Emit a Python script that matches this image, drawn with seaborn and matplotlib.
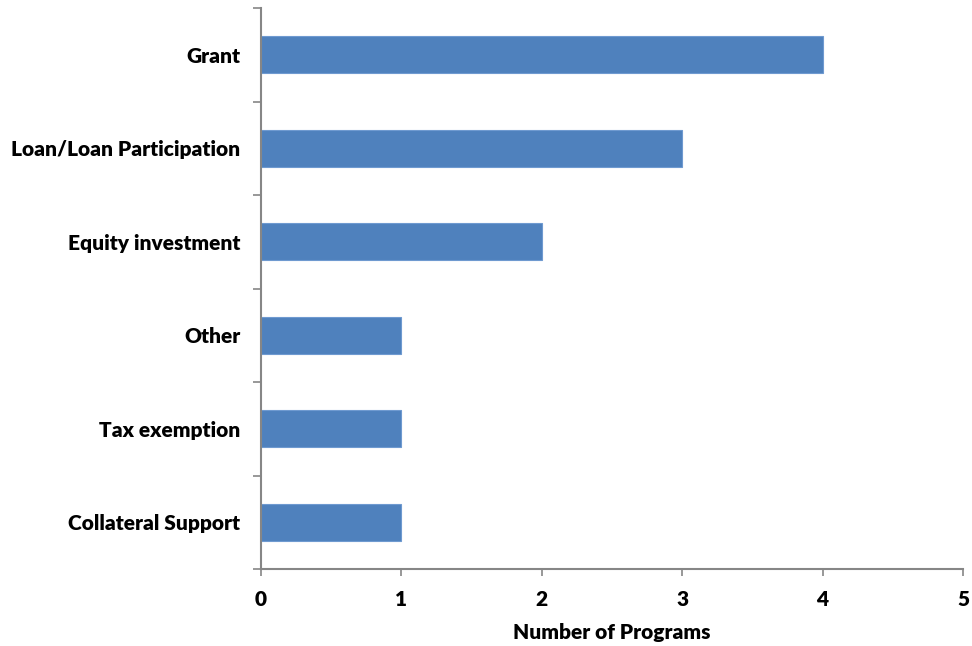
import matplotlib
matplotlib.use("Agg")
import matplotlib.pyplot as plt
import seaborn as sns
import pandas as pd
import numpy as np

categories = ["Grant", "Loan/Loan Participation", "Equity investment", "Other", "Tax exemption", "Collateral Support"]
values = [4, 3, 2, 1, 1, 1]
x_ticks = [0, 1, 2, 3, 4, 5]

df = pd.DataFrame({"category": categories, "value": values})

sns.set_theme(style="white")
plt.rcParams['font.family'] = ['Lato', 'DejaVu Sans']

fig = plt.figure(figsize=(9.72, 6.46), dpi=100)
ax = fig.add_axes([261/972, 1-569/646, (963-261)/972, (569-8)/646])

sns.barplot(data=df, x="value", y="category", orient="h", color="#4F81BD",
            saturation=1, width=0.4, ax=ax, edgecolor="#6F9AD0", linewidth=0.8)

fs = 15
ax.set_xlim(0, 5)
ax.set_ylim(len(categories) - 0.5, -0.5)
ax.set_xticks(x_ticks)
ax.set_xticklabels([str(t) for t in x_ticks], fontsize=fs, fontweight="heavy", color="black")
ax.set_yticks(range(len(categories)))
ax.set_yticklabels(categories, fontsize=fs, fontweight="heavy", color="black")
ax.set_yticks(np.arange(-0.5, len(categories), 1), minor=True)
ax.tick_params(axis="y", which="major", length=0, pad=15)
ax.tick_params(axis="y", which="minor", length=6, width=1.2, color="#868686", direction="out", left=True)
ax.tick_params(axis="x", which="major", length=5, width=1.2, color="#868686", direction="out", bottom=True, pad=10)

for s in ["top", "right"]:
    ax.spines[s].set_visible(False)
for s in ["left", "bottom"]:
    ax.spines[s].set_color("#868686")
    ax.spines[s].set_linewidth(1.5)

ax.set_ylabel("")
ax.set_xlabel("Number of Programs", fontsize=fs, fontweight="heavy", color="black", labelpad=10)

fig.savefig("out.png", dpi=100)
